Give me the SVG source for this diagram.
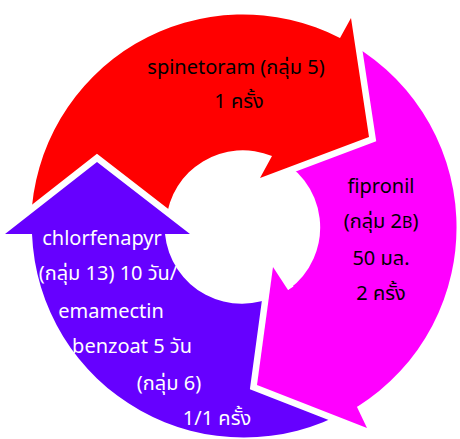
<svg xmlns="http://www.w3.org/2000/svg" width="460" height="439" viewBox="0 0 460 439">
<style>
.arrow{stroke:#ffffff;stroke-width:13;stroke-linejoin:miter;stroke-miterlimit:4;paint-order:stroke}
.red{fill:#ff0000}
.mag{fill:#ff00ff}
.pur{fill:#6600ff}
.t{font-family:"Noto Sans","Noto Sans Thai","Leelawadee UI","DejaVu Sans",sans-serif;font-size:20px;text-anchor:middle}
.dark{fill:#000000}
.light{fill:#ffffff}
</style>
<g id="step-fipronil">
<path class="arrow mag" d="M340,38 A212,212 0 0 1 357,407 L367,428 L257,385 L273,267 L288,290 A77,77 0 0 0 272,156 Z"/>
<text class="t dark" x="381" y="193">fipronil</text>
<text class="t dark" x="381" y="228">(กลุ่ม 2<tspan font-size="16">B</tspan>)</text>
<text class="t dark" x="381" y="265">50 มล.</text>
<text class="t dark" x="381" y="300">2 ครั้ง</text>
</g>
<g id="step-spinetoram">
<path class="arrow red" d="M31.1,220 A212,212 0 0 1 340,38 L351,18 L369,137 L260,178 L272,156 A77,77 0 0 0 166.2,220 Z"/>
<text class="t dark" x="236" y="74">spinetoram (กลุ่ม 5)</text>
<text class="t dark" x="239" y="108">1 ครั้ง</text>
</g>
<g id="step-chlorfenapyr">
<path class="arrow pur" d="M347.4,410.5 A212,212 0 0 1 32,234 L5,234 L97,162 L190,234 L165,234 A77,77 0 0 0 278.9,294.1 Z"/>
<text class="t light" x="102" y="245">chlorfenapyr</text>
<text class="t light" x="108" y="280">(กลุ่ม 13) 10 วัน/</text>
<text class="t light" x="111" y="318">emamectin</text>
<text class="t light" x="132" y="353">benzoat 5 วัน</text>
<text class="t light" x="169" y="390">(กลุ่ม 6)</text>
<text class="t light" x="217" y="425">1/1 ครั้ง</text>
</g>
<g id="connectors">
<path class="arrow mag" d="M288,290 L273,267 L257,385 L367,428 L357,407"/>
</g>
</svg>
